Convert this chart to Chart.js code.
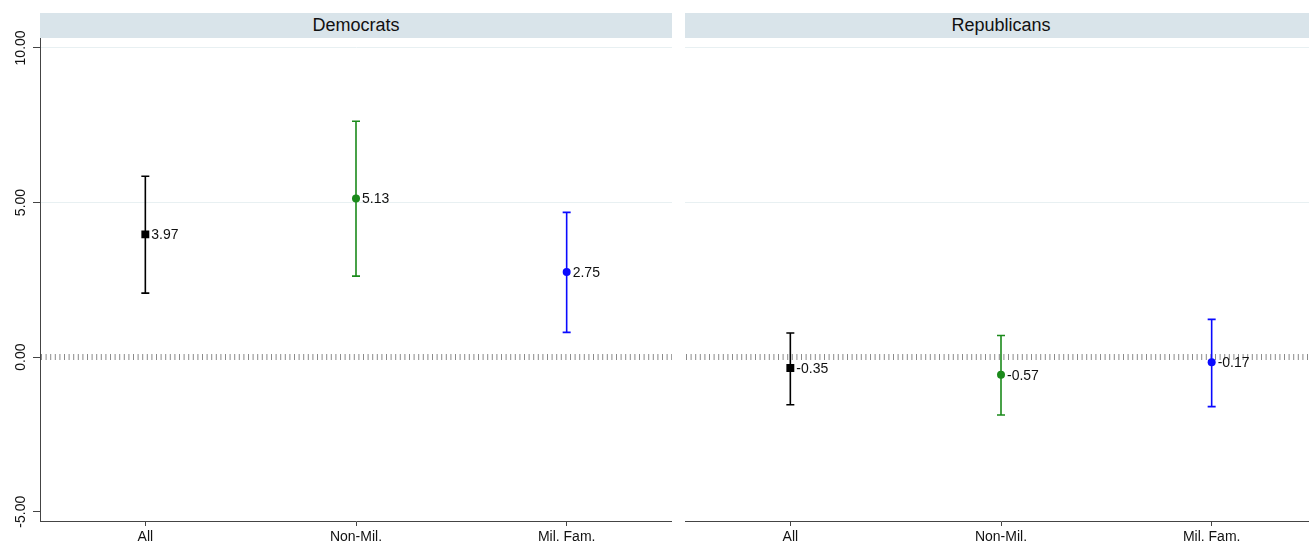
<!DOCTYPE html>
<html>
<head>
<meta charset="utf-8">
<script src="https://cdn.jsdelivr.net/npm/chart.js@4"></script>
<style>
    body { margin: 0; background: #fff; font-family: Arial, "Liberation Sans", sans-serif; }
    #wrap { position: relative; width: 1309px; height: 543px; overflow: hidden; }
    .strip { position: absolute; top: 13px; height: 25px; background: #d9e4ea; color: #111;
             font-size: 18px; line-height: 25px; text-align: center; }
    canvas { position: absolute; top: 0; }
</style>
</head>
<body>
<div id="wrap">
    <div class="strip" style="left:40px;width:632px;">Democrats</div>
    <div class="strip" style="left:685px;width:632px;">Republicans</div>
    <canvas id="demChart" style="left:0;" width="672" height="543"></canvas>
    <canvas id="repChart" style="left:685px;" width="632" height="543"></canvas>
</div>
<script>
// Data
const categories = ['All', 'Non-Mil.', 'Mil. Fam.'];
const demEstimate = [3.97, 5.13, 2.75];
const demLower = [2.07, 2.62, 0.80];
const demUpper = [5.85, 7.63, 4.68];
const repEstimate = [-0.35, -0.57, -0.17];
const repLower = [-1.54, -1.87, -1.60];
const repUpper = [0.78, 0.70, 1.22];
const yTickValues = [-5, 0, 5, 10];
const yTickLabels = ['-5.00', '0.00', '5.00', '10.00'];

const pointColors = ['#000000', '#1b8a1b', '#0a0aff'];
const pointShapes = ['rect', 'circle', 'circle'];
const pointSizes = [5.6, 4, 4];
const Y_MIN = -5.3, Y_MAX = 10.32;
const FONT = 'Arial, "Liberation Sans", sans-serif';

// Plugin: garis nol putus-putus, error bar, label nilai
const errorBarPlugin = {
    id: 'errorBars',
    beforeDatasetsDraw(chart, args, opts) {
        const { ctx, chartArea, scales } = chart;
        const y0 = scales.y.getPixelForValue(0);
        ctx.save();
        ctx.strokeStyle = '#8a8a8a';
        ctx.lineWidth = 6;
        ctx.setLineDash([1, 3.6]);
        ctx.beginPath();
        ctx.moveTo(chartArea.left + 1, y0);
        ctx.lineTo(chartArea.right, y0);
        ctx.stroke();
        ctx.setLineDash([]);
        // error bars
        opts.lower.forEach((lo, i) => {
            const x = scales.x.getPixelForValue(i);
            const yl = scales.y.getPixelForValue(lo);
            const yu = scales.y.getPixelForValue(opts.upper[i]);
            ctx.strokeStyle = pointColors[i];
            ctx.lineWidth = 1.6;
            ctx.beginPath();
            ctx.moveTo(x, yl); ctx.lineTo(x, yu);
            ctx.moveTo(x - 4, yl); ctx.lineTo(x + 4, yl);
            ctx.moveTo(x - 4, yu); ctx.lineTo(x + 4, yu);
            ctx.stroke();
        });
        ctx.restore();
    },
    afterDatasetsDraw(chart, args, opts) {
        const { ctx, scales } = chart;
        const data = chart.data.datasets[0].data;
        ctx.save();
        ctx.fillStyle = '#111';
        ctx.font = '14px ' + FONT;
        ctx.textAlign = 'left';
        ctx.textBaseline = 'middle';
        data.forEach((v, i) => {
            const x = scales.x.getPixelForValue(i);
            const y = scales.y.getPixelForValue(v);
            ctx.fillText(v.toFixed(2), x + 6, y + 1);
        });
        // label sumbu y diputar
        if (opts.yLabels) {
            ctx.textAlign = 'center';
            ctx.textBaseline = 'middle';
            yTickValues.forEach((t, i) => {
                const y = scales.y.getPixelForValue(t);
                ctx.save();
                ctx.translate(21, y);
                ctx.rotate(-Math.PI / 2);
                ctx.fillText(yTickLabels[i], 0, 0);
                ctx.restore();
            });
        }
        ctx.restore();
    }
};

function buildPanel(canvasId, estimate, lower, upper, showYAxis) {
    const canvas = document.getElementById(canvasId);
    return new Chart(canvas, {
        type: 'line',
        data: {
            labels: categories,
            datasets: [{
                data: estimate,
                showLine: false,
                pointStyle: pointShapes,
                pointRadius: pointSizes,
                pointHoverRadius: pointSizes,
                pointBackgroundColor: pointColors,
                pointBorderColor: pointColors,
                pointBorderWidth: 0
            }]
        },
        options: {
            responsive: false,
            animation: false,
            events: [],
            layout: { autoPadding: false, padding: { top: 38, left: 0, right: 0, bottom: 0 } },
            plugins: {
                legend: { display: false },
                tooltip: { enabled: false },
                errorBars: { lower: lower, upper: upper, yLabels: showYAxis }
            },
            scales: {
                x: {
                    type: 'category',
                    offset: true,
                    grid: { display: true, color: 'transparent', drawTicks: true, tickLength: 5, tickColor: '#444', tickWidth: 1 },
                    border: { display: true, color: '#444', width: 1 },
                    ticks: { color: '#111', padding: 3, font: { size: 14, family: FONT } },
                    afterFit: (s) => { s.height = 22; }
                },
                y: {
                    min: Y_MIN,
                    max: Y_MAX,
                    afterBuildTicks: (s) => { s.ticks = yTickValues.map(v => ({ value: v })); },
                    grid: {
                        display: true,
                        color: (c) => (c.tick && c.tick.value > 0) ? '#e8f0f2' : 'transparent',
                        lineWidth: 1,
                        drawTicks: showYAxis,
                        tickLength: 7,
                        tickColor: '#444'
                    },
                    border: { display: showYAxis, color: '#444', width: 1 },
                    ticks: { display: false },
                    afterFit: (s) => { s.width = showYAxis ? 40 : 0; }
                }
            }
        },
        plugins: [errorBarPlugin]
    });
}

buildPanel('demChart', demEstimate, demLower, demUpper, true);
buildPanel('repChart', repEstimate, repLower, repUpper, false);
</script>
</body>
</html>
